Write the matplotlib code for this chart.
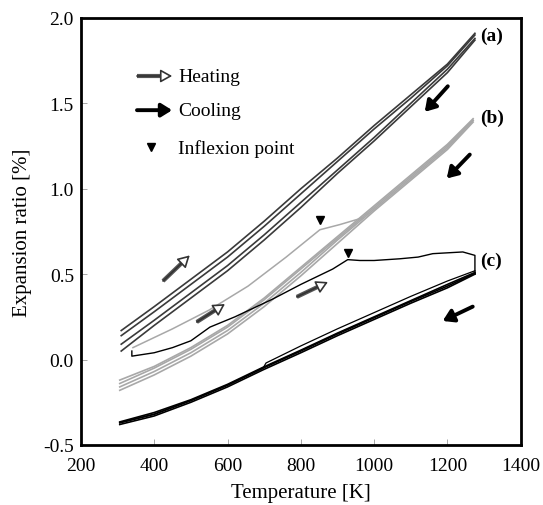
import matplotlib.pyplot as plt
import numpy as np

plt.rcParams['font.family'] = ['Liberation Serif', 'DejaVu Serif']
plt.rcParams['axes.unicode_minus'] = False

# (a) heating/cooling cycles, dark grey bundle
temp_a = [310, 400, 500, 600, 700, 800, 900, 1000, 1100, 1200, 1275]
exp_a1 = [0.17, 0.31, 0.47, 0.63, 0.81, 1.00, 1.18, 1.37, 1.55, 1.73, 1.91]
exp_a2 = [0.14, 0.28, 0.44, 0.60, 0.78, 0.97, 1.16, 1.35, 1.53, 1.72, 1.90]
exp_a3 = [0.09, 0.23, 0.39, 0.55, 0.73, 0.92, 1.11, 1.30, 1.50, 1.70, 1.88]
exp_a4 = [0.05, 0.20, 0.36, 0.52, 0.70, 0.89, 1.09, 1.28, 1.48, 1.68, 1.87]

# (b) light grey bundle + first heating run
temp_b = [306, 400, 500, 600, 700, 800, 900, 1000, 1100, 1200, 1270]
exp_b1 = [-0.12, -0.04, 0.07, 0.20, 0.36, 0.54, 0.72, 0.90, 1.08, 1.26, 1.41]
exp_b2 = [-0.14, -0.05, 0.06, 0.19, 0.35, 0.53, 0.71, 0.89, 1.07, 1.25, 1.40]
exp_b3 = [-0.16, -0.07, 0.04, 0.17, 0.33, 0.51, 0.70, 0.88, 1.06, 1.24, 1.40]
exp_b4 = [-0.18, -0.09, 0.02, 0.15, 0.31, 0.49, 0.68, 0.87, 1.05, 1.23, 1.39]
temp_b_first = [342, 450, 550, 656, 760, 852, 906, 969]
exp_b_first = [0.07, 0.18, 0.29, 0.43, 0.60, 0.76, 0.79, 0.83]

# (c) black: first heating, then cooling bundle
temp_c_heat = [339, 339, 400, 450, 500, 552, 620, 724, 800, 887, 928, 961,
               1000, 1070, 1120, 1160, 1242, 1275, 1275]
exp_c_heat = [0.05, 0.02, 0.04, 0.07, 0.11, 0.19, 0.25, 0.355, 0.44, 0.53,
              0.585, 0.58, 0.58, 0.59, 0.60, 0.62, 0.63, 0.61, 0.50]
temp_c = [306, 400, 500, 600, 697, 800, 900, 1000, 1100, 1200, 1275]
exp_c1 = [-0.37, -0.32, -0.24, -0.15, -0.05, 0.05, 0.15, 0.245, 0.34, 0.43, 0.505]
exp_c2 = [-0.38, -0.33, -0.25, -0.16, -0.06, 0.04, 0.14, 0.235, 0.33, 0.42, 0.50]
exp_c3 = [-0.365, -0.31, -0.235, -0.145, -0.045, 0.055, 0.155, 0.25, 0.345, 0.44, 0.51]
temp_c_up = [306, 400, 500, 600, 697, 705, 800, 900, 1000, 1100, 1200, 1275]
exp_c_up = [-0.37, -0.32, -0.24, -0.15, -0.05, -0.02, 0.08, 0.18, 0.275, 0.37, 0.46, 0.52]

# inflexion points
infl_t = [852, 928]
infl_e = [0.815, 0.625]

# arrows (start, end)
heat_arrows = [((424, 0.46), (497, 0.61)),
               ((516, 0.22), (593, 0.325)),
               ((789, 0.367), (874, 0.454))]
cool_arrows = [((1201, 1.60), (1138, 1.45)),
               ((1261, 1.20), (1198, 1.06)),
               ((1269, 0.31), (1187, 0.226))]

fig = plt.figure(figsize=(5.43, 5.06), dpi=100)
ax = fig.add_axes([0.149, 0.1186, 0.810, 0.844])


def heat_arrow(p0, p1):
	#thick grey shaft with a hollow head
	x0, y0 = p0
	x1, y1 = p1
	f = 0.74
	ax.plot([x0, x0 + f * (x1 - x0)], [y0, y0 + f * (y1 - y0)],
		color='#555555', lw=3.0, solid_capstyle='butt')
	ax.annotate('', xy=(x1, y1), xytext=(x0, y0),
		arrowprops=dict(arrowstyle='-|>,head_length=0.5,head_width=0.28', lw=1.2,
			ec='#333333', fc='white', shrinkA=0, shrinkB=0, mutation_scale=14))


def cool_arrow(p0, p1):
	ax.annotate('', xy=p1, xytext=p0,
		arrowprops=dict(arrowstyle='-|>,head_length=0.45,head_width=0.28', lw=2.8,
			color='black', shrinkA=0, shrinkB=0, mutation_scale=14))


for e in [exp_a1, exp_a2, exp_a3, exp_a4]:
	ax.plot(temp_a, e, color='#3a3a3a', lw=1.2)
for e in [exp_b1, exp_b2, exp_b3, exp_b4]:
	ax.plot(temp_b, e, color='#a8a8a8', lw=1.2)
ax.plot(temp_b_first, exp_b_first, color='#a8a8a8', lw=1.1)
ax.plot(temp_c_heat, exp_c_heat, color='black', lw=1.0)
for e in [exp_c1, exp_c2, exp_c3]:
	ax.plot(temp_c, e, color='black', lw=1.2)
ax.plot(temp_c_up, exp_c_up, color='black', lw=0.9)

ax.plot(infl_t, infl_e, linestyle='none', marker='v', color='black', ms=6)

for p0, p1 in heat_arrows:
	heat_arrow(p0, p1)
for p0, p1 in cool_arrows:
	cool_arrow(p0, p1)

# legend drawn by hand
heat_arrow((353, 1.66), (449, 1.66))
cool_arrow((353, 1.46), (449, 1.46))
ax.plot([390], [1.245], linestyle='none', marker='v', color='black', ms=6)
ax.text(465, 1.66, 'Heating', fontsize=14, va='center')
ax.text(465, 1.46, 'Cooling', fontsize=14, va='center')
ax.text(465, 1.24, 'Inflexion point', fontsize=14, va='center')

ax.text(1288, 1.90, '(a)', fontsize=14, fontweight='bold', va='center')
ax.text(1288, 1.42, '(b)', fontsize=14, fontweight='bold', va='center')
ax.text(1288, 0.58, '(c)', fontsize=14, fontweight='bold', va='center')

ax.set_xlim(200, 1400)
ax.set_ylim(-0.5, 2.0)
ax.set_xticks([200, 400, 600, 800, 1000, 1200, 1400])
ax.set_yticks([-0.5, 0.0, 0.5, 1.0, 1.5, 2.0])
ax.set_yticklabels(['-0.5', '0.0', '0.5', '1.0', '1.5', '2.0'])
ax.tick_params(direction='in', length=4, width=0.6, color='#999999', labelsize=14)
ax.tick_params(axis='x', pad=9)
ax.tick_params(axis='y', pad=5)
for s in ax.spines.values():
	s.set_linewidth(2)
ax.set_xlabel('Temperature [K]', fontsize=15, labelpad=6)
ax.set_ylabel('Expansion ratio [%]', fontsize=15, labelpad=8)

fig.savefig('out.png', dpi=100)
